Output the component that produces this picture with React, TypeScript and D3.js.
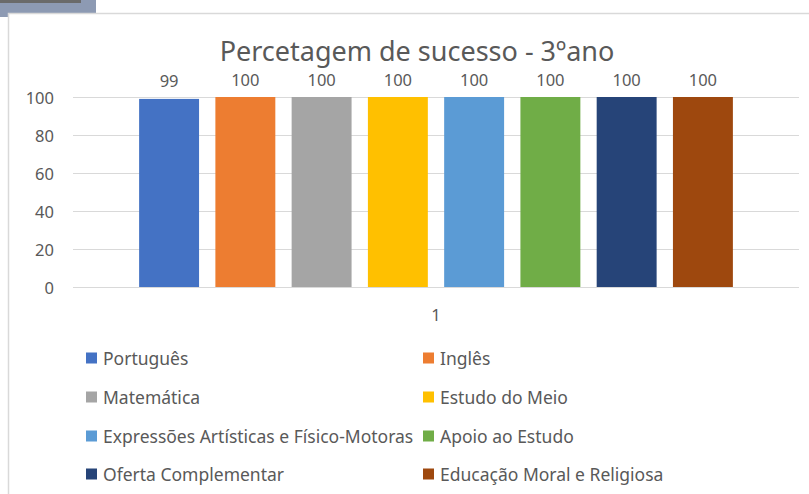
import React from 'react';
import * as d3 from 'd3';

// chart data
const categories = ['1'];
const subjects = [
  'Português',
  'Inglês',
  'Matemática',
  'Estudo do Meio',
  'Expressões Artísticas e Físico-Motoras',
  'Apoio ao Estudo',
  'Oferta Complementar',
  'Educação Moral e Religiosa',
];
const values = [99, 100, 100, 100, 100, 100, 100, 100];
const colors = ['#4472C4', '#ED7D31', '#A5A5A5', '#FFC000', '#5B9BD5', '#70AD47', '#264478', '#9E480E'];
const yTicks = [0, 20, 40, 60, 80, 100];

const W = 809;
const H = 494;
const font = "'Segoe UI', 'Noto Sans', sans-serif";
const textColor = '#595959';

const App = () => {
  const plot = { left: 73, right: 799, top: 97, bottom: 287 };

  const y = d3.scaleLinear().domain([0, 100]).range([plot.bottom, plot.top]);

  const x0 = d3.scaleBand()
    .domain(categories)
    .range([plot.left, plot.right])
    .paddingInner(0)
    .paddingOuter(0.095);

  const x1 = d3.scaleBand()
    .domain(subjects)
    .range([0, x0.bandwidth()])
    .paddingInner(0.214)
    .paddingOuter(0.107);

  // legend: two columns, four rows
  const legendCols = [86, 423];
  const legendRows = [358, 397, 436, 474];

  return (
    <svg width={W} height={H} style={{ position: 'absolute', left: 0, top: 0, background: '#fff' }}>
      {/* screenshot remnant top-left */}
      <rect x={0} y={0} width={96} height={17} fill="#8d9ab3" />
      <rect x={0} y={0} width={81} height={3} fill="#6a6a6a" />

      {/* chart frame */}
      <rect x={8.5} y={13.5} width={W + 20} height={H + 20} fill="#fff" stroke="#d9d9d9" strokeWidth={1.5} />

      <text x={417} y={50} textAnchor="middle" dominantBaseline="central"
        fontFamily={font} fontSize={27} fill={textColor}>
        Percetagem de sucesso - 3ºano
      </text>

      {/* gridlines and y labels */}
      {yTicks.map(t => (
        <g key={t}>
          <line x1={plot.left} x2={plot.right} y1={Math.round(y(t)) + 0.5} y2={Math.round(y(t)) + 0.5}
            stroke="#d9d9d9" strokeWidth={1} />
          <text x={54} y={y(t)} textAnchor="end" dominantBaseline="central"
            fontFamily={font} fontSize={16.5} fill={textColor}>{t}</text>
        </g>
      ))}

      {/* bars */}
      {categories.map(c => (
        <g key={c} transform={`translate(${x0(c)},0)`}>
          {subjects.map((s, i) => (
            <g key={s}>
              <rect x={x1(s)} y={y(values[i])} width={x1.bandwidth()} height={plot.bottom - y(values[i])}
                fill={colors[i]} />
              <text x={(x1(s) as number) + x1.bandwidth() / 2} y={y(values[i]) - 18}
                textAnchor="middle" dominantBaseline="central"
                fontFamily={font} fontSize={16.5} fill={textColor}>{values[i]}</text>
            </g>
          ))}
          <text x={x0.bandwidth() / 2} y={314} textAnchor="middle" dominantBaseline="central"
            fontFamily={font} fontSize={16.5} fill={textColor}>{c}</text>
        </g>
      ))}

      {/* legend */}
      {subjects.map((s, i) => {
        const lx = legendCols[i % 2];
        const ly = legendRows[Math.floor(i / 2)];
        return (
          <g key={s}>
            <rect x={lx} y={ly - 5.5} width={11} height={11} fill={colors[i]} />
            <text x={lx + 17} y={ly} dominantBaseline="central"
              fontFamily={font} fontSize={17.5} fill={textColor}>{s}</text>
          </g>
        );
      })}
    </svg>
  );
};

export default App;
